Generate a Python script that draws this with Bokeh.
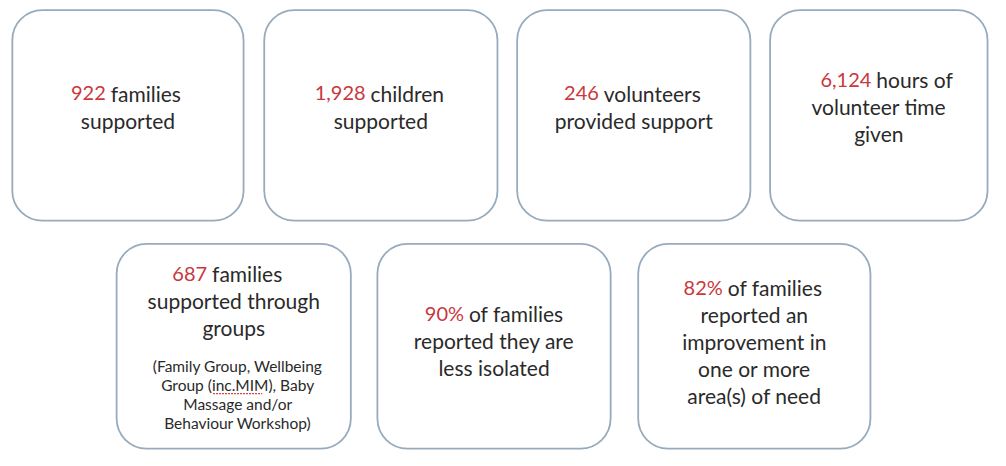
from bokeh.plotting import figure
from bokeh.models import Range1d
from bokeh.core.properties import value
from bokeh.embed import file_html
from bokeh.resources import INLINE

# ---- data ----
numbers = ["922", "1,928", "246", "6,124", "687", "90%", "82%"]
first_rest = ["families", "children", "volunteers", "hours of", "families", "of families", "of families"]
more_lines = [
    ["supported"],
    ["supported"],
    ["provided support"],
    ["volunteer time", "given"],
    ["supported through", "groups"],
    ["reported they are", "less isolated"],
    ["reported an", "improvement in", "one or more", "area(s) of need"],
]
notes = [[], [], [], [], ["(Family Group, Wellbeing", "Group (inc.MIM), Baby", "Massage and/or", "Behaviour Workshop)"], [], []]

# ---- layout (reference pixel coordinates) ----
box_left = [12, 268, 525, 782, 118, 383, 648]
box_right = [247, 505, 762, 1003, 356, 620, 884]
box_top = [10, 10, 10, 10, 252, 252, 252]
box_bottom = [228, 228, 228, 228, 464, 464, 464]
first_y = [96, 96, 96, 82, 283, 324, 297]
split_x = [109, 373, 610, 887, 212, 473, 736]
line_gap = 28
note_start = 378
note_gap = 20

FONT = "Lato"
RED = "#c8383c"
DARK = "#2a2a2a"
BORDER = "#98abbd"

p = figure(width=990, height=450, output_backend="svg", toolbar_location=None,
           x_range=Range1d(0, 1006), y_range=Range1d(466, 0),
           x_axis_location=None, y_axis_location=None, min_border=0)
p.grid.visible = False
p.outline_line_color = None
p.background_fill_color = "white"
p.border_fill_color = "white"

p.quad(left=box_left, right=box_right, top=box_top, bottom=box_bottom,
       fill_color="white", line_color=BORDER, line_width=1.8, border_radius=30)

rx, ry, rt = [], [], []
dx, dy, dt = [], [], []
cx, cy, ct = [], [], []
nx, ny, nt = [], [], []
for i in range(len(numbers)):
    rx.append(split_x[i] - 2); ry.append(first_y[i]); rt.append(numbers[i])
    dx.append(split_x[i] + 3); dy.append(first_y[i]); dt.append(first_rest[i])
    center = (box_left[i] + box_right[i]) / 2
    for j, ln in enumerate(more_lines[i]):
        cx.append(center); cy.append(first_y[i] + line_gap * (j + 1)); ct.append(ln)
    for j, ln in enumerate(notes[i]):
        nx.append(center + 4); ny.append(note_start + note_gap * j); nt.append(ln)

p.text(x=rx, y=ry, text=rt, text_align="right", text_baseline="middle",
       text_font=value(FONT), text_font_size="20px", text_color=RED)
p.text(x=dx, y=dy, text=dt, text_align="left", text_baseline="middle",
       text_font=value(FONT), text_font_size="21px", text_color=DARK)
p.text(x=cx, y=cy, text=ct, text_align="center", text_baseline="middle",
       text_font=value(FONT), text_font_size="21px", text_color=DARK)
p.text(x=nx, y=ny, text=nt, text_align="center", text_baseline="middle",
       text_font=value(FONT), text_font_size="15.5px", text_color=DARK)

# spell-check underline under "inc.MIM"
p.line(x=[216, 266], y=[407, 407], line_color="#d04040", line_width=1.3, line_dash="2 1")

open("out.html", "w").write(file_html(p, INLINE))
